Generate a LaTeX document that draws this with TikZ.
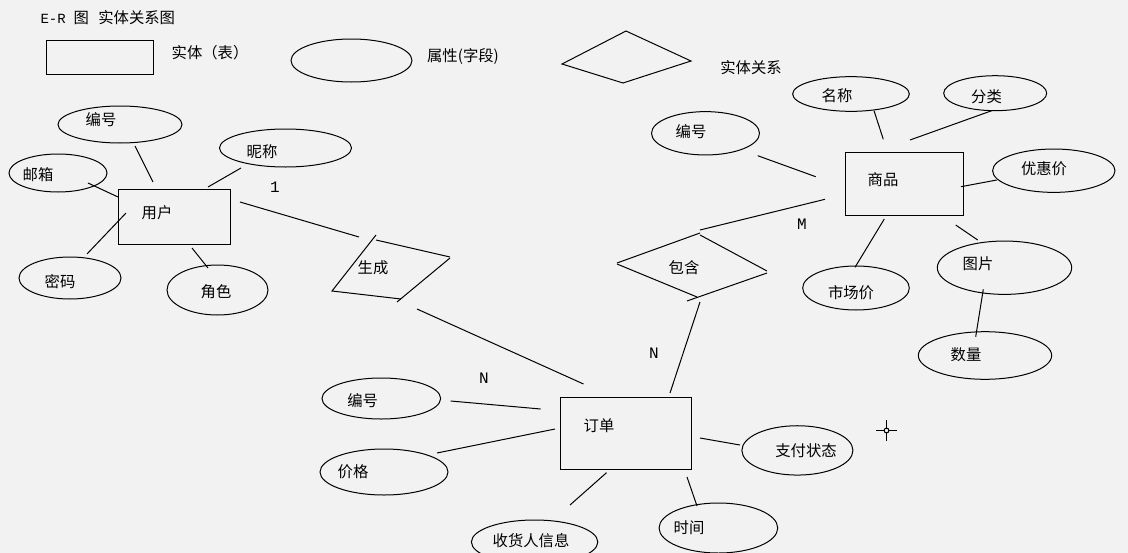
\documentclass[tikz,border=0pt]{standalone}
\usepackage{fontspec}
\usetikzlibrary{shapes.geometric}
\newfontfamily\cjk{Noto Sans CJK SC}
\newfontfamily\monof{Liberation Mono}
\definecolor{bgc}{HTML}{F2F2F2}
\begin{document}
\begin{tikzpicture}[x=0.75pt,y=-0.75pt, line width=0.75pt,
  txt/.style={font=\cjk\fontsize{11.5}{13}\selectfont, inner sep=0pt},
  lab/.style={font=\monof\fontsize{12}{14}\selectfont, inner sep=0pt},
  ent/.style={draw, rectangle, inner sep=0pt},
  attr/.style={draw, ellipse, inner sep=0pt},
  conn/.style={line width=0.75pt}]
\fill[bgc] (0,0) rectangle (1128,553);
\useasboundingbox (0,0) rectangle (1128,553);

% ---------- legend ----------
\node[txt, anchor=west] (title) at (40,18) {{\monof\fontsize{10.5}{12}\selectfont E-R}\hspace{6pt}图\hspace{7pt}实体关系图};
\node[ent, minimum width=80.25pt, minimum height=25.5pt] (legrect) at (99.5,57) {};
\node[txt] (legrectt) at (210,53) {实体（表）};
\node[attr, minimum width=90.75pt, minimum height=32.25pt] (legell) at (351.5,60.5) {};
\node[txt] (legellt) at (463,57) {属性(字段)};
\coordinate (legdL) at (562,64);
\coordinate (legdT) at (626,31);
\coordinate (legdR) at (691,61);
\coordinate (legdB) at (623,83);
\draw (legdL) -- (legdT) -- (legdR) -- (legdB) -- cycle;
\node[txt] (legdt) at (751,68) {实体关系};

% ---------- entities ----------
\node[ent, minimum width=84pt, minimum height=41.25pt] (user) at (174,216.5) {};
\node[txt] (usert) at (157,213) {用户};
\node[ent, minimum width=88.5pt, minimum height=47pt] (goods) at (904,184) {};
\node[txt] (goodst) at (883,180) {商品};
\node[ent, minimum width=98.25pt, minimum height=54pt] (order) at (625.5,433) {};
\node[txt] (ordert) at (599,426) {订单};

% ---------- user attributes ----------
\node[attr, minimum width=93pt, minimum height=27.75pt] (uid) at (120,124.5) {};
\node[txt] (uidt) at (101,120) {编号};
\node[attr, minimum width=99pt, minimum height=28.5pt] (unick) at (285.5,148) {};
\node[txt] (unickt) at (262,152) {昵称};
\node[attr, minimum width=73.5pt, minimum height=28.5pt] (umail) at (58,173) {};
\node[txt] (umailt) at (38,175) {邮箱};
\node[attr, minimum width=76.5pt, minimum height=31.5pt] (upwd) at (70,278) {};
\node[txt] (upwdt) at (60,282) {密码};
\node[attr, minimum width=75.75pt, minimum height=37.5pt] (urole) at (217.5,290) {};
\node[txt] (uroles) at (216,292) {角色};

% ---------- goods attributes ----------
\node[attr, minimum width=81pt, minimum height=32.5pt] (gid) at (705.5,133.3) {};
\node[txt] (gidt) at (691,132) {编号};
\node[attr, minimum width=87.5pt, minimum height=26pt] (gname) at (851,94) {};
\node[txt] (gnamet) at (837,96) {名称};
\node[attr, minimum width=77.25pt, minimum height=26.25pt] (gcat) at (995.2,93.2) {};
\node[txt] (gcatt) at (986.5,97) {分类};
\node[attr, minimum width=91.8pt, minimum height=32.5pt] (gdisc) at (1053.8,170.7) {};
\node[txt] (gdisct) at (1044,169) {优惠价};
\node[attr, minimum width=80pt, minimum height=33pt] (gmkt) at (856,288) {};
\node[txt] (gmktt) at (851,293) {市场价};
\node[attr, minimum width=100.8pt, minimum height=40pt] (gpic) at (1004.5,267.7) {};
\node[txt] (gpict) at (978,264) {图片};
\node[attr, minimum width=100pt, minimum height=35.7pt] (gqty) at (985,355.5) {};
\node[txt] (gqtyt) at (966,355) {数量};

% ---------- order attributes ----------
\node[attr, minimum width=89pt, minimum height=30.75pt] (oid) at (381.3,398.5) {};
\node[txt] (oidt) at (362.6,401) {编号};
\node[attr, minimum width=96pt, minimum height=34.5pt] (oprice) at (384,472) {};
\node[txt] (opricet) at (353,472) {价格};
\node[attr, minimum width=94.8pt, minimum height=33pt] (orecv) at (534.6,542) {};
\node[txt] (orecvt) at (531,541) {收货人信息};
\node[attr, minimum width=89pt, minimum height=37.5pt] (otime) at (718.4,528) {};
\node[txt] (otimet) at (689,528) {时间};
\node[attr, minimum width=83.3pt, minimum height=37pt] (opay) at (797.4,450.4) {};
\node[txt] (opayt) at (806,451) {支付状态};

% ---------- relationship 生成 ----------
\coordinate (scT1) at (376,235);
\coordinate (scT2) at (376,240);
\coordinate (scL) at (332,291);
\coordinate (scB1) at (401,299);
\coordinate (scR1) at (450,257);
\coordinate (scR2) at (450,258);
\coordinate (scB2) at (397,302);
\draw (scT1) -- (scL) -- (scB1);
\draw (scT2) -- (scR1);
\draw (scR2) -- (scB2);
\node[txt] (sct) at (373,268) {生成};

% ---------- relationship 包含 ----------
\coordinate (bhL1) at (617,263);
\coordinate (bhT1) at (700,233);
\coordinate (bhT2) at (700,235);
\coordinate (bhR1) at (767,271);
\coordinate (bhL2) at (617,264);
\coordinate (bhB1) at (697,297);
\coordinate (bhR2) at (767,273);
\coordinate (bhB2) at (687,301);
\draw (bhL1) -- (bhT1);
\draw (bhT2) -- (bhR1);
\draw (bhL2) -- (bhB1);
\draw (bhR2) -- (bhB2);
\node[txt] (bht) at (684,268) {包含};

% ---------- connectors : user ----------
\coordinate (c1a) at (135,146);   \coordinate (c1b) at (153,182);
\coordinate (c2a) at (208,187);   \coordinate (c2b) at (241,168);
\coordinate (c3a) at (88,183);    \coordinate (c3b) at (118,197);
\coordinate (c4a) at (87,254);    \coordinate (c4b) at (126,213);
\coordinate (c5a) at (192,248);   \coordinate (c5b) at (208,268);
\coordinate (c6a) at (240,202);   \coordinate (c6b) at (359,237);
\coordinate (c7a) at (417,309);   \coordinate (c7b) at (583.5,384);
\draw[conn] (c1a) -- (c1b);
\draw[conn] (c2a) -- (c2b);
\draw[conn] (c3a) -- (c3b);
\draw[conn] (c4a) -- (c4b);
\draw[conn] (c5a) -- (c5b);
\draw[conn] (c6a) -- (c6b);
\draw[conn] (c7a) -- (c7b);

% ---------- connectors : goods ----------
\coordinate (d1a) at (874,110.7);   \coordinate (d1b) at (883.3,139.3);
\coordinate (d2a) at (991.7,110.7); \coordinate (d2b) at (910,140);
\coordinate (d3a) at (757.7,155.7); \coordinate (d3b) at (815.7,176.7);
\coordinate (d4a) at (961,186.7);   \coordinate (d4b) at (996.7,180);
\coordinate (d5a) at (884.3,219);   \coordinate (d5b) at (855,267.3);
\coordinate (d6a) at (955.7,225);   \coordinate (d6b) at (977.7,240);
\coordinate (d7a) at (983.3,289.3); \coordinate (d7b) at (975.7,336.7);
\coordinate (d8a) at (700,230);     \coordinate (d8b) at (825,199.3);
\draw[conn] (d1a) -- (d1b);
\draw[conn] (d2a) -- (d2b);
\draw[conn] (d3a) -- (d3b);
\draw[conn] (d4a) -- (d4b);
\draw[conn] (d5a) -- (d5b);
\draw[conn] (d6a) -- (d6b);
\draw[conn] (d7a) -- (d7b);
\draw[conn] (d8a) -- (d8b);

% ---------- connectors : order ----------
\coordinate (e1a) at (700,302);     \coordinate (e1b) at (670,393);
\coordinate (e2a) at (450.6,401);   \coordinate (e2b) at (540.6,409);
\coordinate (e3a) at (437,453);     \coordinate (e3b) at (555,429);
\coordinate (e4a) at (606.5,472.7); \coordinate (e4b) at (570,505);
\coordinate (e5a) at (687,477);     \coordinate (e5b) at (697,506);
\coordinate (e6a) at (700,438);     \coordinate (e6b) at (740,445);
\draw[conn] (e1a) -- (e1b);
\draw[conn] (e2a) -- (e2b);
\draw[conn] (e3a) -- (e3b);
\draw[conn] (e4a) -- (e4b);
\draw[conn] (e5a) -- (e5b);
\draw[conn] (e6a) -- (e6b);

% ---------- cardinality labels ----------
\node[lab] (card1) at (275,187) {1};
\node[lab] (cardN1) at (484,378) {N};
\node[lab] (cardN2) at (654,353) {N};
\node[lab] (cardM) at (802,224) {M};

% ---------- cursor ----------
\coordinate (curc) at (886.5,430.5);
\coordinate (curL) at (876,430.5);  \coordinate (curR) at (897,430.5);
\coordinate (curT) at (886.5,420);  \coordinate (curB) at (886.5,441);
\draw[line width=1.3pt] (curL) -- (curR);
\draw[line width=1.3pt] (curT) -- (curB);
\fill[bgc] (curc) circle (1.8pt);
\draw[line width=0.8pt] (curc) circle (1.8pt);
\end{tikzpicture}
\end{document}
